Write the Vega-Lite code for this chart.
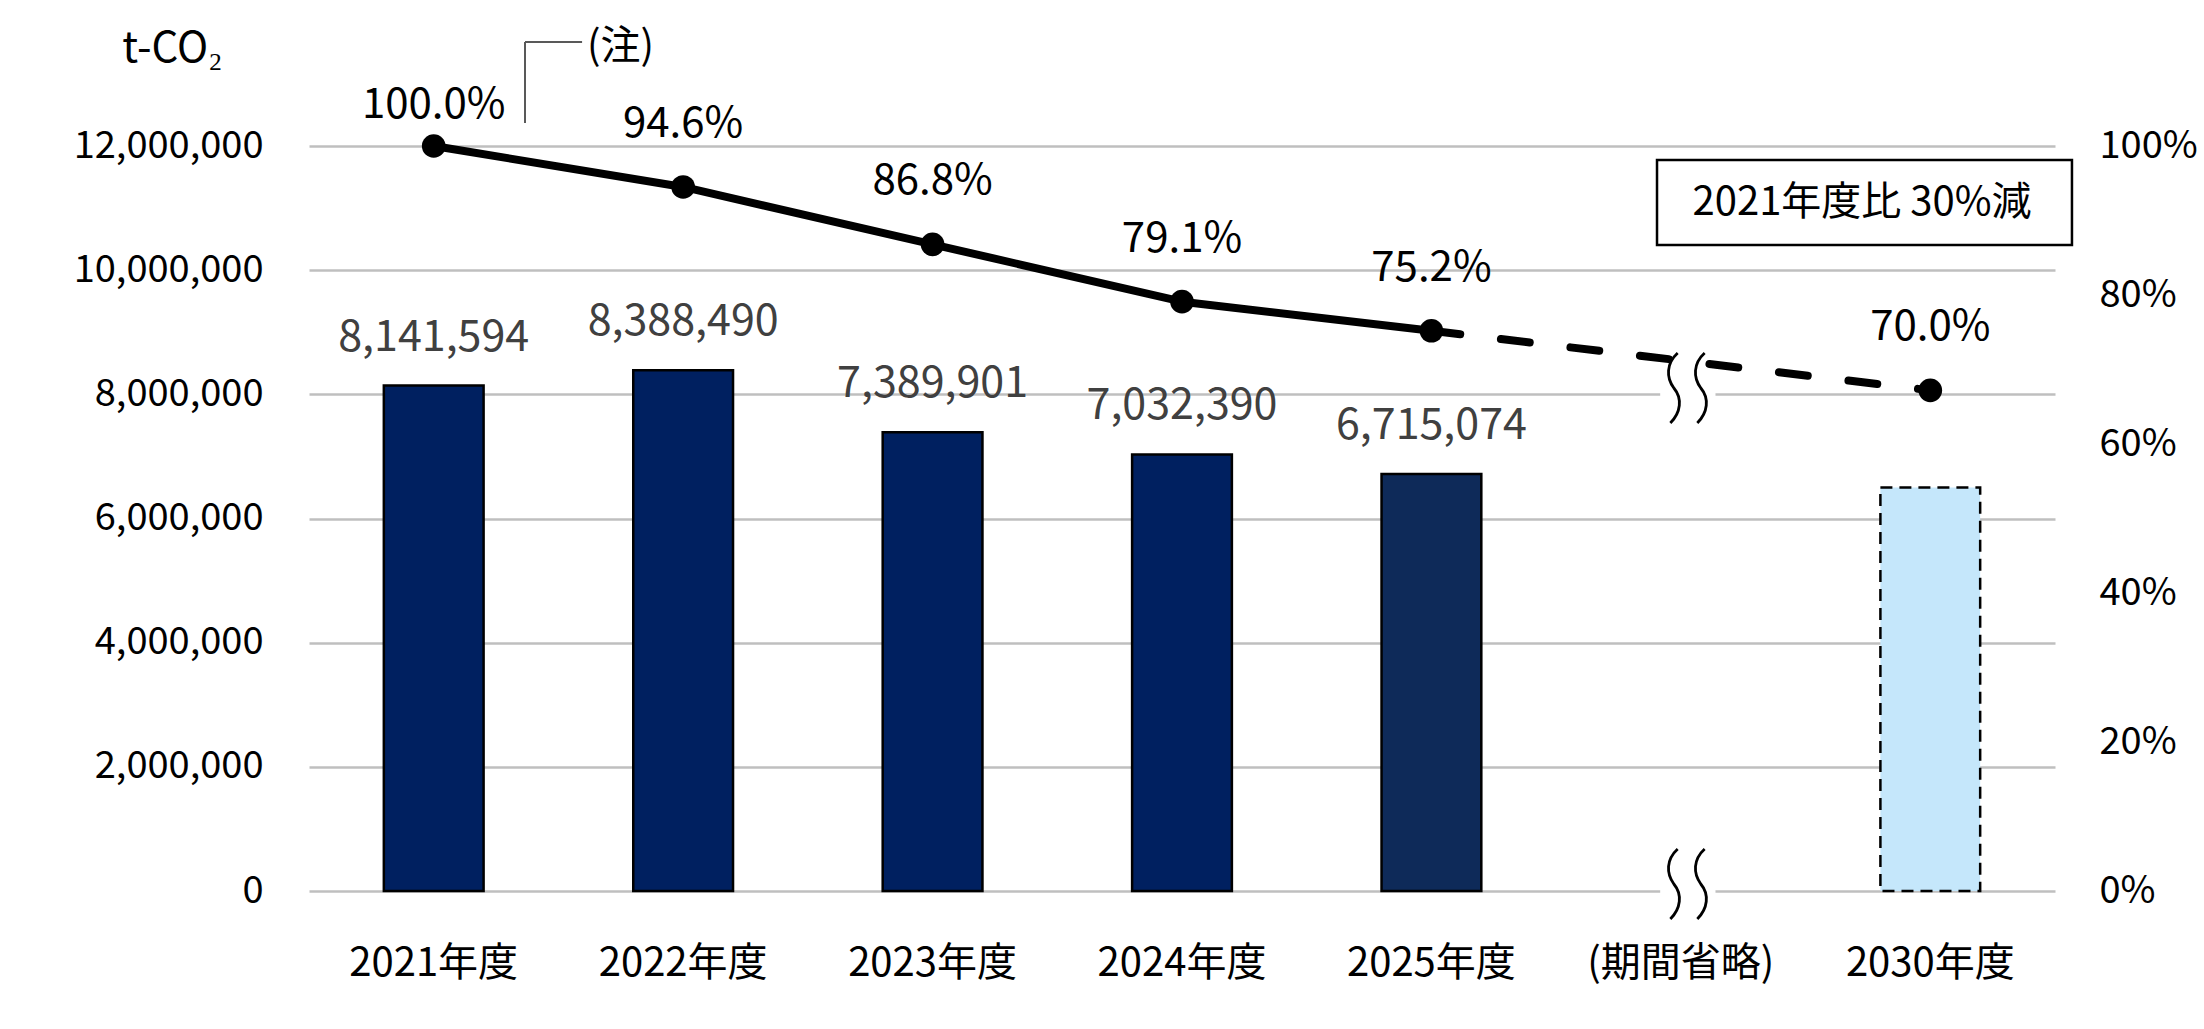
{
  "$schema": "https://vega.github.io/schema/vega-lite/v6.json",
  "width": 1746,
  "height": 745,
  "autosize": {"type": "none"},
  "padding": {"left": 309, "top": 146, "right": 149, "bottom": 138},
  "background": "white",
  "config": {"font": "Noto Sans CJK JP", "view": {"stroke": null}},
  "datasets": {
    "bars": [
      {"cat": "2021年度", "value": 8141594},
      {"cat": "2022年度", "value": 8388490},
      {"cat": "2023年度", "value": 7389901},
      {"cat": "2024年度", "value": 7032390},
      {"cat": "2025年度", "value": 6715074},
      {"cat": "2030年度", "value": 6500000}
    ],
    "ratios": [
      {"cat": "2021年度", "ratio": 1.0, "label": "100.0%"},
      {"cat": "2022年度", "ratio": 0.945, "label": "94.6%"},
      {"cat": "2023年度", "ratio": 0.868, "label": "86.8%"},
      {"cat": "2024年度", "ratio": 0.791, "label": "79.1%"},
      {"cat": "2025年度", "ratio": 0.752, "label": "75.2%"},
      {"cat": "2030年度", "ratio": 0.672, "label": "70.0%"}
    ]
  },
  "layer": [
    {
      "data": {"name": "bars"},
      "layer": [
        {
          "transform": [{"filter": "datum.cat !== '2030年度'"}],
          "mark": {"type": "bar", "stroke": "black", "strokeWidth": 2.5},
          "encoding": {
            "x": {
              "field": "cat", "type": "nominal",
              "scale": {"domain": ["2021年度", "2022年度", "2023年度", "2024年度", "2025年度", "(期間省略)", "2030年度"], "paddingInner": 0.6, "paddingOuter": 0.3},
              "axis": {"title": null, "domain": false, "ticks": false, "tickSize": 0, "labelPadding": 84, "labelBaseline": "alphabetic", "labelFontSize": 40, "labelColor": "black", "labelAngle": 0, "labelLimit": 0, "grid": false}
            },
            "y": {
              "field": "value", "type": "quantitative",
              "scale": {"domain": [0, 12000000], "nice": false},
              "axis": {"title": "t-CO₂", "titleAngle": 0, "titleX": -137, "titleY": -98, "titleAlign": "center", "titleBaseline": "middle", "titleFontSize": 42, "titleFontWeight": "normal", "titleColor": "black", "values": [0, 2000000, 4000000, 6000000, 8000000, 10000000, 12000000], "format": ",", "labelExpr": "format(datum.value, ',')", "labelLimit": 0, "grid": true, "gridColor": "#BFBFBF", "gridWidth": 2.5, "domain": false, "ticks": false, "tickSize": 0, "labelPadding": 46, "labelFontSize": 38, "labelColor": "black"}
            },
            "fill": {"field": "cat", "type": "nominal", "scale": {"domain": ["2021年度", "2022年度", "2023年度", "2024年度", "2025年度", "2030年度"], "range": ["#002060", "#002060", "#002060", "#002060", "#0E2A59", "#C5E7FB"]}, "legend": null}
          }
        },
        {
          "transform": [{"filter": "datum.cat === '2030年度'"}],
          "mark": {"type": "bar", "stroke": "black", "strokeWidth": 2.5, "strokeDash": [12, 7]},
          "encoding": {
            "x": {"field": "cat", "type": "nominal"},
            "y": {"field": "value", "type": "quantitative"},
            "fill": {"field": "cat", "type": "nominal", "legend": null}
          }
        },
        {
          "transform": [{"filter": "datum.cat !== '2030年度'"}],
          "mark": {"type": "text", "dy": -35, "fontSize": 43, "color": "#404040", "baseline": "alphabetic"},
          "encoding": {
            "x": {"field": "cat", "type": "nominal"},
            "y": {"field": "value", "type": "quantitative"},
            "text": {"field": "value", "type": "quantitative", "format": ","}
          }
        }
      ]
    },
    {
      "data": {"name": "ratios"},
      "layer": [
        {
          "transform": [{"filter": "datum.cat !== '2030年度'"}],
          "mark": {"type": "line", "color": "black", "strokeWidth": 8, "strokeJoin": "round"},
          "encoding": {
            "x": {"field": "cat", "type": "nominal"},
            "y": {
              "field": "ratio", "type": "quantitative",
              "scale": {"domain": [0, 1], "nice": false},
              "axis": {"orient": "right", "title": null, "format": ".0%", "labelExpr": "format(datum.value, '.0%')", "labelLimit": 0, "values": [0, 0.2, 0.4, 0.6, 0.8, 1], "grid": false, "domain": false, "ticks": false, "tickSize": 0, "labelPadding": 44, "labelFontSize": 38, "labelColor": "black"}
            }
          }
        },
        {
          "transform": [{"filter": "datum.cat === '2025年度' || datum.cat === '2030年度'"}],
          "mark": {"type": "line", "color": "black", "strokeWidth": 8, "strokeDash": [29, 41], "strokeCap": "round"},
          "encoding": {
            "x": {"field": "cat", "type": "nominal"},
            "y": {"field": "ratio", "type": "quantitative"}
          }
        },
        {
          "mark": {"type": "point", "shape": "circle", "filled": true, "size": 560, "color": "black", "opacity": 1},
          "encoding": {
            "x": {"field": "cat", "type": "nominal"},
            "y": {"field": "ratio", "type": "quantitative"}
          }
        },
        {
          "transform": [{"filter": "datum.cat !== '2021年度'"}],
          "mark": {"type": "text", "dy": -50, "fontSize": 42, "color": "black", "baseline": "alphabetic"},
          "encoding": {
            "x": {"field": "cat", "type": "nominal"},
            "y": {"field": "ratio", "type": "quantitative"},
            "text": {"field": "label", "type": "nominal"}
          }
        },
        {
          "transform": [{"filter": "datum.cat === '2021年度'"}],
          "mark": {"type": "text", "dy": -28, "fontSize": 42, "color": "black", "baseline": "alphabetic"},
          "encoding": {
            "x": {"field": "cat", "type": "nominal"},
            "y": {"field": "ratio", "type": "quantitative"},
            "text": {"field": "label", "type": "nominal"}
          }
        }
      ]
    },
    {
      "data": {"values": [{"note": "annotation"}]},
      "layer": [
        {
          "mark": {"type": "rule", "color": "#595959", "strokeWidth": 2},
          "encoding": {
            "x": {"datum": "2021年度", "type": "nominal", "bandPosition": 1.415},
            "y": {"datum": 13675000, "type": "quantitative", "scale": {"domain": [0, 12000000], "nice": false}, "axis": null},
            "y2": {"datum": 12370000}
          }
        },
        {
          "mark": {"type": "rule", "color": "#595959", "strokeWidth": 2},
          "encoding": {
            "x": {"datum": "2021年度", "type": "nominal", "bandPosition": 1.415},
            "x2": {"datum": "2021年度", "bandPosition": 1.987},
            "y": {"datum": 13675000, "type": "quantitative"}
          }
        },
        {
          "mark": {"type": "text", "text": "(注)", "fontSize": 40, "color": "black", "align": "left", "baseline": "middle"},
          "encoding": {
            "x": {"datum": "2021年度", "type": "nominal", "bandPosition": 2.037},
            "y": {"datum": 13595000, "type": "quantitative"}
          }
        },
        {
          "mark": {"type": "rect", "fill": "white", "stroke": "black", "strokeWidth": 2.5},
          "encoding": {
            "x": {"datum": "2030年度", "type": "nominal", "bandPosition": -2.239},
            "x2": {"datum": "2030年度", "bandPosition": 1.92},
            "y": {"datum": 11774000, "type": "quantitative"},
            "y2": {"datum": 10405000}
          }
        },
        {
          "mark": {"type": "text", "text": "2021年度比 30%減", "fontSize": 40, "color": "black", "align": "center", "baseline": "middle"},
          "encoding": {
            "x": {"datum": "2030年度", "type": "nominal", "bandPosition": -0.184},
            "y": {"datum": 11082000, "type": "quantitative"}
          }
        },
        {
          "mark": {"type": "point", "shape": "M-0.79,-0.5H0.79V0.5H-0.79Z", "size": 4900, "filled": true, "fill": "white", "strokeWidth": 0, "opacity": 1},
          "encoding": {
            "x": {"datum": "(期間省略)", "type": "nominal", "bandPosition": 0.57},
            "y": {"datum": 8102000, "type": "quantitative"}
          }
        },
        {
          "mark": {"type": "point", "shape": "M-0.79,-0.5H0.79V0.5H-0.79Z", "size": 4900, "filled": true, "fill": "white", "strokeWidth": 0, "opacity": 1},
          "encoding": {
            "x": {"datum": "(期間省略)", "type": "nominal", "bandPosition": 0.57},
            "y": {"datum": 113000, "type": "quantitative"}
          }
        },
        {
          "mark": {"type": "point", "shape": "M-0.29,-1C-0.62,-0.7,-0.62,-0.3,-0.4,0C-0.15,0.3,-0.2,0.7,-0.5,1M0.48,-1C0.15,-0.7,0.15,-0.3,0.37,0C0.62,0.3,0.57,0.7,0.27,1", "size": 4900, "filled": false, "stroke": "black", "strokeWidth": 2.8, "opacity": 1},
          "encoding": {
            "x": {"datum": "(期間省略)", "type": "nominal", "bandPosition": 0.57},
            "y": {"datum": 8102000, "type": "quantitative"}
          }
        },
        {
          "mark": {"type": "point", "shape": "M-0.29,-1C-0.62,-0.7,-0.62,-0.3,-0.4,0C-0.15,0.3,-0.2,0.7,-0.5,1M0.48,-1C0.15,-0.7,0.15,-0.3,0.37,0C0.62,0.3,0.57,0.7,0.27,1", "size": 4900, "filled": false, "stroke": "black", "strokeWidth": 2.8, "opacity": 1},
          "encoding": {
            "x": {"datum": "(期間省略)", "type": "nominal", "bandPosition": 0.57},
            "y": {"datum": 113000, "type": "quantitative"}
          }
        }
      ]
    }
  ],
  "resolve": {"scale": {"y": "independent"}}
}
